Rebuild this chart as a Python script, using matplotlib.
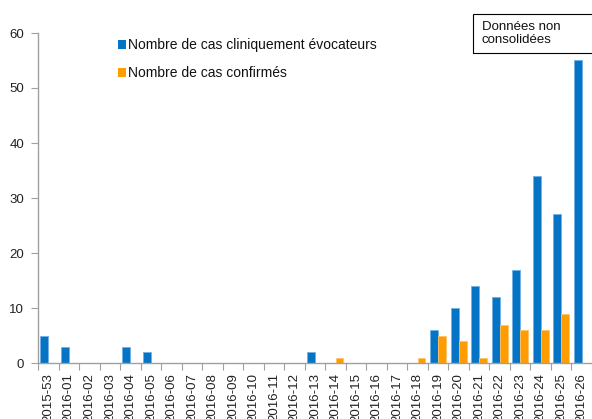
import matplotlib
matplotlib.use("Agg")
import matplotlib.pyplot as plt
from matplotlib.patches import Rectangle
import numpy as np

plt.rcParams['font.family'] = ['Liberation Sans', 'DejaVu Sans']

semaines = ['2015-53'] + ['2016-%02d' % i for i in range(1, 27)]
cas_evocateurs = [5, 3, 0, 0, 3, 2, 0, 0, 0, 0, 0, 0, 0, 2, 0, 0, 0, 0, 0,
                  6, 10, 14, 12, 17, 34, 27, 55]
cas_confirmes = [0, 0, 0, 0, 0, 0, 0, 0, 0, 0, 0, 0, 0, 0, 1, 0, 0, 0, 1,
                 5, 4, 1, 7, 6, 6, 9, 0]

bleu = '#0574c4'
orange = '#ff9c00'

fig = plt.figure(figsize=(5.92, 4.19), dpi=100)
ax = fig.add_axes([38/592, 56/419, (592-38)/592, 330/419])

x = np.arange(len(semaines))
w = 0.385
ax.bar(x - w/2, cas_evocateurs, w, color=bleu, edgecolor='#6fb0e4', linewidth=0.6,
       label='Nombre de cas cliniquement évocateurs')
ax.bar(x + w/2, cas_confirmes, w, color=orange, edgecolor='#ffc36a', linewidth=0.6,
       label='Nombre de cas confirmés')

ax.set_ylim(0, 60)
ax.set_yticks(range(0, 61, 10))
ax.set_xlim(-0.5, -0.5 + 554/20.78)
ax.set_xticks(np.arange(len(semaines) + 1) - 0.5, minor=False)
ax.set_xticklabels([])
ax.set_xticks(x, minor=True)
ax.set_xticklabels(semaines, minor=True, rotation=90, fontsize=9.5, color='#222222')
ax.tick_params(axis='x', which='minor', length=0, pad=7)
ax.tick_params(axis='x', which='major', length=5, color='#a0a0a0')
ax.tick_params(axis='y', length=5, color='#a0a0a0', labelsize=9.5, labelcolor='#222222', pad=5)

for s in ['top', 'right']:
    ax.spines[s].set_visible(False)
for s in ['left', 'bottom']:
    ax.spines[s].set_color('#a0a0a0')
    ax.spines[s].set_linewidth(1.0)

leg = ax.legend(loc='upper left', bbox_to_anchor=(118/592, 1 - 38.5/419),
                bbox_transform=fig.transFigure, frameon=False, fontsize=10,
                handlelength=0.58, handleheight=0.58, handletextpad=0.17,
                labelspacing=1.0, borderpad=0, borderaxespad=0)
for h in leg.legend_handles:
    h.set_linewidth(0)
for t in leg.get_texts():
    t.set_color('#111111')

fig.add_artist(Rectangle((473.5/592, 1 - 53.5/419), 125/592, 39/419,
                         transform=fig.transFigure, fill=False,
                         edgecolor='black', linewidth=0.8))
fig.text(482/592, 1 - 21.5/419, 'Données non\nconsolidées', fontsize=9.5,
         va='top', ha='left', linespacing=1.1, color='#111111')

fig.savefig('out.png', dpi=100)
